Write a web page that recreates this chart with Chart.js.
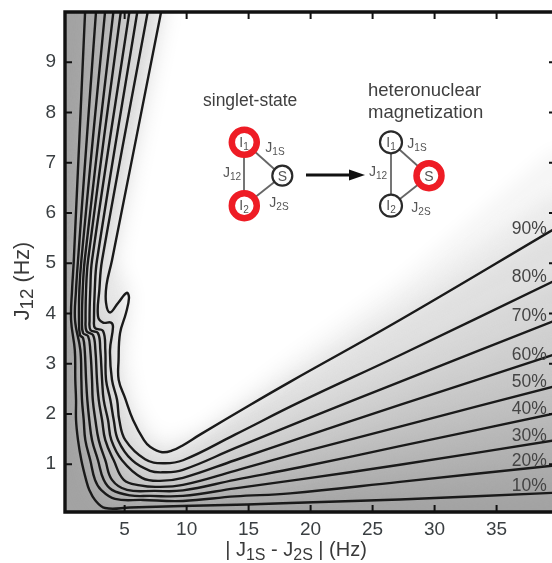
<!DOCTYPE html>
<html>
<head>
<meta charset="utf-8">
<title>Transfer efficiency contours</title>
<script src="https://cdn.jsdelivr.net/npm/chart.js@4"></script>
<style>
  html, body { margin: 0; padding: 0; background: #fff; }
  #wrap { width: 552px; height: 563px; overflow: hidden; }
  canvas { display: block; filter: blur(0.5px); }
</style>
</head>
<body>
<div id="wrap"><canvas id="chart" width="552" height="563"></canvas></div>
<script>
// contours, [ |J1S-J2S| in Hz, J12 in Hz ]
const contour10 = [[1.81,10],[0.90,5.06],[0.76,4.47],[0.68,3.87],[0.98,3.27],[1.02,2.68],[1.08,2.28],[1.08,1.88],[1.24,1.48],[1.51,1.08],[1.89,0.69],[2.15,0.49],[2.61,0.29],[3.42,0.13],[5.44,0.14],[9.63,0.17],[14.87,0.20],[18.34,0.23],[27.2,0.30],[39.5,0.43]];
const contour20 = [[2.69,10],[1.24,5.06],[1.08,4.47],[1.00,3.87],[1.43,3.27],[1.51,2.68],[1.56,2.28],[1.70,1.88],[1.83,1.48],[2.23,1.08],[2.61,0.69],[3.10,0.49],[4.23,0.31],[6.48,0.29],[9.71,0.27],[13.9,0.36],[18.34,0.42],[27.2,0.65],[39.5,0.97]];
const contour30 = [[3.42,10],[1.51,5.06],[1.35,4.47],[1.32,3.87],[1.40,3.57],[1.65,3.51],[1.78,3.27],[1.89,2.68],[1.99,2.28],[2.15,1.88],[2.37,1.48],[2.85,1.08],[3.31,0.69],[3.98,0.49],[5.44,0.38],[7.05,0.37],[9.71,0.37],[13.9,0.52],[19.15,0.70],[27.2,0.99],[39.5,1.47]];
const contour40 = [[4.09,10],[1.78,5.06],[1.62,4.47],[1.56,3.87],[1.65,3.61],[2.05,3.55],[2.23,3.27],[2.37,2.68],[2.43,2.28],[2.64,1.88],[2.91,1.48],[3.44,1.08],[3.98,0.69],[5.19,0.49],[7.45,0.47],[9.71,0.48],[13.9,0.69],[19.15,0.94],[27.2,1.36],[39.5,2.00]];
const contour50 = [[4.69,10],[2.05,5.06],[1.89,4.47],[1.85,3.87],[1.93,3.65],[2.45,3.57],[2.64,3.27],[2.77,2.68],[2.91,2.28],[3.18,1.88],[3.44,1.48],[4.12,1.08],[4.93,0.69],[6.24,0.58],[7.59,0.55],[9.71,0.59],[13.9,0.87],[19.15,1.23],[27.2,1.75],[39.5,2.54]];
const contour60 = [[5.38,10],[2.37,5.06],[2.23,4.47],[2.17,3.87],[2.25,3.67],[2.85,3.61],[3.04,3.27],[3.18,2.68],[3.31,2.28],[3.66,1.88],[3.93,1.48],[4.79,1.08],[6.40,0.73],[7.85,0.67],[9.71,0.73],[13.9,1.08],[19.15,1.52],[27.2,2.18],[39.5,3.17]];
const contour70 = [[6.02,10],[2.77,5.06],[2.59,4.47],[2.53,3.87],[2.61,3.71],[3.26,3.65],[3.44,3.27],[3.50,2.68],[3.85,2.28],[4.12,1.88],[4.47,1.48],[5.60,1.08],[7.05,0.87],[8.10,0.84],[9.71,0.89],[13.9,1.32],[19.15,1.85],[27.2,2.64],[39.5,3.84]];
const contour80 = [[6.86,10],[3.18,5.06],[2.96,4.47],[2.85,3.95],[3.26,3.82],[3.90,3.82],[4.06,3.73],[3.82,3.27],[3.98,2.68],[4.39,2.28],[4.57,1.88],[5.06,1.48],[6.65,1.10],[8.10,1.02],[9.71,1.08],[13.9,1.59],[19.15,2.24],[27.2,3.17],[39.5,4.63]];
const contour90 = [[7.94,10],[3.98,5.06],[3.54,4.57],[3.50,4.21],[3.82,4.02],[4.47,4.21],[5.17,4.41],[5.35,4.31],[5.11,4.01],[4.63,3.61],[4.51,3.07],[4.52,2.68],[5.03,2.32],[5.68,1.88],[6.56,1.48],[7.05,1.35],[8.02,1.24],[8.90,1.28],[9.71,1.38],[11.08,1.59],[15.11,2.18],[18.34,2.64],[27.2,3.87],[39.5,5.66]];
// where the grey fades out to white above the 90% line (shading only, no line)
const fadeEdge = [[8.4,10],[4.4,5.06],[5.6,4.37],[5.0,3.07],[5.6,2.28],[6.8,1.65],[8.26,1.38],[11.08,1.68],[19.15,2.95],[27.2,4.27],[39.5,6.35]];
const whiteEdge = [[8.8,10],[4.8,5.06],[5.84,4.37],[5.43,3.07],[6.08,2.28],[7.05,1.78],[8.26,1.52],[11.08,1.78],[19.15,3.27],[27.2,4.67],[39.5,7.25]];

const contours = [contour10, contour20, contour30, contour40, contour50, contour60, contour70, contour80, contour90];
const contourLabels = ['10%', '20%', '30%', '40%', '50%', '60%', '70%', '80%', '90%'];
const labelY = [0.47, 0.97, 1.47, 2.0, 2.54, 3.07, 3.85, 4.63, 5.58];
const bandGreys = ['#a9a9a9', '#b0b0b0', '#b7b7b7', '#bfbfbf', '#c7c7c7', '#cfcfcf', '#d7d7d7', '#e0e0e0', '#ebebeb', '#f6f6f6', '#ffffff'];
const xTickValues = [5, 10, 15, 20, 25, 30, 35];
const yTickValues = [1, 2, 3, 4, 5, 6, 7, 8, 9];

const FONT = '"Liberation Sans", Arial, sans-serif';

// text with subscripts: parts are [string, isSub]
function richWidth(ctx, parts, size, subScale) {
    let w = 0;
    parts.forEach(p => {
        ctx.font = (p[1] ? size * subScale : size) + 'px ' + FONT;
        w += ctx.measureText(p[0]).width;
    });
    return w;
}

function drawRich(ctx, parts, x, y, size, color, subScale = 0.72) {
    let cx = x - richWidth(ctx, parts, size, subScale) / 2;
    ctx.fillStyle = color;
    ctx.textAlign = 'left';
    ctx.textBaseline = 'alphabetic';
    parts.forEach(p => {
        ctx.font = (p[1] ? size * subScale : size) + 'px ' + FONT;
        ctx.fillText(p[0], cx, p[1] ? y + size * 0.2 : y);
        cx += ctx.measureText(p[0]).width;
    });
}

function spin(ctx, x, y, r, color, width) {
    ctx.beginPath();
    ctx.arc(x, y, r, 0, Math.PI * 2);
    ctx.fillStyle = '#fff';
    ctx.fill();
    ctx.strokeStyle = color;
    ctx.lineWidth = width;
    ctx.stroke();
}

function segment(ctx, x1, y1, x2, y2) {
    ctx.beginPath();
    ctx.moveTo(x1, y1);
    ctx.lineTo(x2, y2);
    ctx.strokeStyle = '#666';
    ctx.lineWidth = 1.8;
    ctx.stroke();
}

function drawInset(ctx) {
    const grey = '#555';
    ctx.textAlign = 'left';
    ctx.textBaseline = 'alphabetic';
    ctx.fillStyle = '#3f3f3f';
    ctx.font = '17.5px ' + FONT;
    ctx.fillText('singlet-state', 203, 106);
    ctx.font = '18.5px ' + FONT;
    ctx.fillText('heteronuclear', 368, 96);
    ctx.fillText('magnetization', 368, 118);

    segment(ctx, 244, 142, 244, 206);
    segment(ctx, 244, 142, 282, 176);
    segment(ctx, 244, 206, 282, 176);
    spin(ctx, 244.3, 142.3, 12.5, '#ee1c25', 6.5);
    spin(ctx, 244.3, 205.7, 12.5, '#ee1c25', 6.5);
    spin(ctx, 282.3, 175.7, 10, '#2a2a2a', 2.2);
    drawRich(ctx, [['I', false], ['1', true]], 244, 147, 14, grey);
    drawRich(ctx, [['I', false], ['2', true]], 244, 210, 14, grey);
    drawRich(ctx, [['S', false]], 282.5, 181, 14, grey);
    drawRich(ctx, [['J', false], ['1S', true]], 275, 152, 14, grey);
    drawRich(ctx, [['J', false], ['2S', true]], 279, 207, 14, grey);
    drawRich(ctx, [['J', false], ['12', true]], 232, 177, 14, grey);

    // arrow
    ctx.strokeStyle = '#111';
    ctx.lineWidth = 3.2;
    ctx.beginPath();
    ctx.moveTo(306, 175);
    ctx.lineTo(352, 175);
    ctx.stroke();
    ctx.fillStyle = '#111';
    ctx.beginPath();
    ctx.moveTo(365, 175);
    ctx.lineTo(349, 169.5);
    ctx.lineTo(349, 180.5);
    ctx.closePath();
    ctx.fill();

    segment(ctx, 391, 142, 391, 206);
    segment(ctx, 391, 142, 429, 176);
    segment(ctx, 391, 206, 429, 176);
    spin(ctx, 391, 142.3, 11, '#2a2a2a', 2.2);
    spin(ctx, 391, 205.7, 11, '#2a2a2a', 2.2);
    spin(ctx, 429, 175.7, 12.5, '#ee1c25', 6.5);
    drawRich(ctx, [['I', false], ['1', true]], 391, 147, 14, grey);
    drawRich(ctx, [['I', false], ['2', true]], 391, 210, 14, grey);
    drawRich(ctx, [['S', false]], 429, 181, 14, grey);
    drawRich(ctx, [['J', false], ['1S', true]], 417, 148, 14, grey);
    drawRich(ctx, [['J', false], ['2S', true]], 421, 212, 14, grey);
    drawRich(ctx, [['J', false], ['12', true]], 378, 176, 14, grey);
}

const contourMap = {
    id: 'contourMap',
    // grey map: each contour closed over the top right corner, blurred into a gradient
    beforeDatasetsDraw(chart) {
        const ctx = chart.ctx, a = chart.chartArea, xs = chart.scales.x, ys = chart.scales.y;
        ctx.save();
        ctx.beginPath();
        ctx.rect(a.left, a.top, a.width, a.height);
        ctx.clip();
        ctx.fillStyle = '#a3a3a3';
        ctx.fillRect(a.left, a.top, a.width, a.height);
        ctx.filter = 'blur(9px)';
        contours.concat([fadeEdge, whiteEdge]).forEach((line, i) => {
            ctx.beginPath();
            line.forEach((p, j) => {
                const px = xs.getPixelForValue(p[0]), py = ys.getPixelForValue(p[1]);
                if (j === 0) ctx.moveTo(px, py - 60);
                ctx.lineTo(px, py);
            });
            const last = line[line.length - 1];
            ctx.lineTo(a.right + 60, ys.getPixelForValue(last[1]));
            ctx.lineTo(a.right + 60, a.top - 60);
            ctx.closePath();
            ctx.fillStyle = bandGreys[i];
            ctx.fill();
        });
        ctx.restore();
    },
    afterDraw(chart) {
        const ctx = chart.ctx, a = chart.chartArea, xs = chart.scales.x, ys = chart.scales.y;
        ctx.save();
        // frame, open on the cropped right side
        ctx.strokeStyle = '#111';
        ctx.lineWidth = 3.4;
        ctx.beginPath();
        ctx.moveTo(a.right + 5, a.top);
        ctx.lineTo(a.left, a.top);
        ctx.lineTo(a.left, a.bottom);
        ctx.lineTo(a.right + 5, a.bottom);
        ctx.stroke();
        // inward ticks
        ctx.lineWidth = 2;
        ctx.beginPath();
        xTickValues.forEach(v => {
            const px = xs.getPixelForValue(v);
            ctx.moveTo(px, a.bottom);
            ctx.lineTo(px, a.bottom - 7);
            ctx.moveTo(px, a.top);
            ctx.lineTo(px, a.top + 7);
        });
        yTickValues.forEach(v => {
            const py = ys.getPixelForValue(v);
            ctx.moveTo(a.left, py);
            ctx.lineTo(a.left + 7, py);
            ctx.moveTo(a.right, py);
            ctx.lineTo(a.right - 3, py);
        });
        ctx.stroke();

        ctx.textAlign = 'right';
        ctx.textBaseline = 'alphabetic';
        ctx.fillStyle = '#444';
        ctx.font = '17.5px ' + FONT;
        contourLabels.forEach((t, i) => {
            ctx.fillText(t, xs.getPixelForValue(39.05), ys.getPixelForValue(labelY[i]));
        });

        drawRich(ctx, [['| J', false], ['1S', true], [' - J', false], ['2S', true], [' | (Hz)', false]], 296, 556, 20, '#3a3a3a', 0.8);
        ctx.translate(29, 281);
        ctx.rotate(-Math.PI / 2);
        drawRich(ctx, [['J', false], ['12', true], [' (Hz)', false]], 0, 0, 21.5, '#3a3a3a', 0.88);
        ctx.restore();

        ctx.save();
        drawInset(ctx);
        ctx.restore();
    }
};

new Chart(document.getElementById('chart').getContext('2d'), {
    type: 'scatter',
    data: {
        datasets: contours.map((line, i) => ({
            label: contourLabels[i],
            data: line.map(p => ({ x: p[0], y: p[1] })),
            showLine: true,
            borderColor: '#1a1a1a',
            borderWidth: 2.4,
            tension: 0.4,
            pointRadius: 0
        }))
    },
    options: {
        responsive: false,
        animation: false,
        layout: { autoPadding: false, padding: { top: 12, right: 0, left: 0, bottom: 0 } },
        plugins: { legend: { display: false }, tooltip: { enabled: false } },
        scales: {
            x: {
                type: 'linear',
                min: 0.19,
                max: 39.47,
                grid: { display: false, drawTicks: false },
                border: { display: false },
                afterBuildTicks: s => { s.ticks = xTickValues.map(v => ({ value: v })); },
                afterFit: s => { s.height = 51; s.paddingLeft = 0; s.paddingRight = 0; },
                ticks: { padding: 6, color: '#3a3f42', font: { family: FONT, size: 19 }, maxRotation: 0 }
            },
            y: {
                type: 'linear',
                min: 0.05,
                max: 10,
                grid: { display: false, drawTicks: false },
                border: { display: false },
                afterBuildTicks: s => { s.ticks = yTickValues.map(v => ({ value: v })); },
                afterFit: s => { s.width = 65; s.paddingTop = 0; s.paddingBottom = 0; },
                ticks: { padding: 9, color: '#3a3f42', font: { family: FONT, size: 19 } }
            }
        }
    },
    plugins: [contourMap]
});
</script>
</body>
</html>
